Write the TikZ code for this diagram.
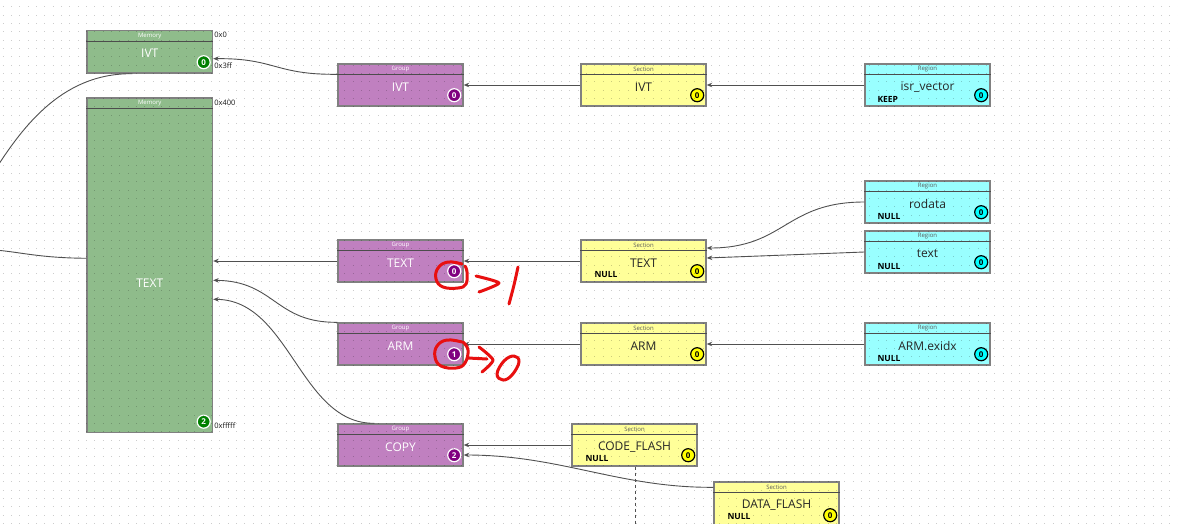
\documentclass[tikz,border=0pt]{standalone}
\usepackage{fontspec}
\setmainfont{Open Sans}
\usetikzlibrary{calc,arrows.meta}
\definecolor{memg}{RGB}{143,188,139}
\definecolor{grpp}{RGB}{192,128,192}
\definecolor{secy}{RGB}{255,255,153}
\definecolor{regc}{RGB}{153,255,255}
\definecolor{bordc}{RGB}{128,128,128}
\definecolor{badgeg}{RGB}{0,128,0}
\definecolor{badgep}{RGB}{128,0,128}
\definecolor{badgey}{RGB}{255,255,0}
\definecolor{badgec}{RGB}{0,255,255}
\definecolor{connc}{RGB}{80,80,80}
\definecolor{annored}{RGB}{232,16,16}
\definecolor{headdark}{RGB}{90,90,90}
\tikzset{
 base/.style={rectangle, draw=bordc, line width=1.4pt, inner sep=0pt},
 membox/.style={base, fill=memg},
 grpbox/.style={base, fill=grpp},
 secbox/.style={base, fill=secy},
 regbox/.style={base, fill=regc},
 memsep/.style={draw=black!70, line width=1pt},
 grpsep/.style={draw=black!70, line width=1pt},
 secsep/.style={draw=black!70, line width=1pt},
 regsep/.style={draw=black!70, line width=1pt},
 headfont/.style={font=\fontsize{6}{7}\selectfont, inner sep=0pt},
 memhead/.style={headfont, text=white},
 grphead/.style={headfont, text=white},
 sechead/.style={headfont, text=headdark},
 reghead/.style={headfont, text=headdark},
 labfont/.style={font=\fontsize{12}{14}\selectfont, inner sep=0pt},
 memlab/.style={labfont, text=white},
 grplab/.style={labfont, text=white},
 seclab/.style={labfont, text=black!85},
 reglab/.style={labfont, text=black!85},
 badge/.style={circle, inner sep=0pt, minimum size=13pt, line width=1.2pt, font=\bfseries\fontsize{8}{9}\selectfont},
 membadge/.style={badge, fill=badgeg, draw=white, text=white},
 grpbadge/.style={badge, fill=badgep, draw=white, text=white},
 secbadge/.style={badge, fill=badgey, draw=black, text=black},
 regbadge/.style={badge, fill=badgec, draw=black, text=black},
 flag/.style={font=\bfseries\fontsize{8.5}{10}\selectfont, anchor=west, inner sep=0pt, text=black},
 addr/.style={font=\fontsize{7.5}{9}\selectfont, anchor=west, inner sep=0pt, text=black!90},
 conn/.style={draw=connc, line width=0.9pt, -{Stealth[length=5.5pt,width=4.5pt]}},
 plainconn/.style={draw=connc, line width=0.9pt},
 dashconn/.style={draw=connc, line width=0.9pt, dashed},
 gridline/.style={draw=black, draw opacity=0.2, line width=1pt, dash pattern=on 1pt off 7.333pt},
 anno/.style={draw=annored, line width=3pt, line cap=round, line join=round},
}
% name, x1, y1, x2, y2, kind, header, label, badge
\newcommand\mkbox[9]{%
 \node[#6box, minimum width={(#4)-(#2)}, minimum height={(#5)-(#3)}] (#1) at ({((#2)+(#4))/2},{((#3)+(#5))/2}) {};
 \draw[#6sep] ($(#1.north west)+(0,11.5)$) -- ($(#1.north east)+(0,11.5)$);
 \node[#6head] (#1-h) at ($(#1.north)+(0,5.8)$) {#7};
 \node[#6lab] (#1-l) at ($(#1.north)+(0,23.5)$) {#8};
 \node[#6badge] (#1-b) at ($(#1.south east)+(-9.5,-11.5)$) {#9};
}
\begin{document}
\begin{tikzpicture}[x=1pt,y=-1pt]
\useasboundingbox (0,0) rectangle (1178,523);
\clip (0,0) rectangle (1178,523);
\fill[white] (0,0) rectangle (1178,523);

% boxes
\mkbox{memivt}{87}{30.5}{212.5}{73}{mem}{Memory}{IVT}{0}
\mkbox{memtext}{87}{98}{212.5}{432.5}{mem}{Memory}{}{2}
\node[memlab] (memtext-lab) at ($(memtext.north)+(0,186)$) {TEXT};

\mkbox{grpivt}{338}{64}{463}{106}{grp}{Group}{IVT}{0}
\mkbox{grptext}{338}{240}{463}{282}{grp}{Group}{TEXT}{0}
\mkbox{grparm}{338}{323}{463}{365}{grp}{Group}{ARM}{1}
\mkbox{grpcopy}{338}{424}{463}{466}{grp}{Group}{COPY}{2}

\mkbox{secivt}{581}{64}{706}{106}{sec}{Section}{IVT}{0}
\mkbox{sectext}{581}{240}{706}{282}{sec}{Section}{TEXT}{0}
\mkbox{secarm}{581}{323}{706}{365}{sec}{Section}{ARM}{0}
\mkbox{seccode}{572}{424}{697}{466}{sec}{Section}{CODE\_FLASH}{0}
\mkbox{secdata}{714}{482}{839}{526}{sec}{Section}{DATA\_FLASH}{0}

\mkbox{regisr}{865}{64}{990}{106}{reg}{Region}{isr\_vector}{0}
\mkbox{regro}{865}{181}{990}{223}{reg}{Region}{rodata}{0}
\mkbox{regtext}{865}{231}{990}{273}{reg}{Region}{text}{0}
\mkbox{regarm}{865}{323}{990}{365}{reg}{Region}{ARM.exidx}{0}

% flags
\node[flag] (sectext-f) at ($(sectext.south west)+(14,-8)$) {NULL};
\node[flag] (seccode-f) at ($(seccode.south west)+(14,-8)$) {NULL};
\node[flag] (secdata-f) at ($(secdata.south west)+(14,-10)$) {NULL};
\node[flag] (regisr-f) at ($(regisr.south west)+(13,-7)$) {KEEP};
\node[flag] (regro-f) at ($(regro.south west)+(13,-7)$) {NULL};
\node[flag] (regtext-f) at ($(regtext.south west)+(13,-7)$) {NULL};
\node[flag] (regarm-f) at ($(regarm.south west)+(13,-7)$) {NULL};

% addresses
\node[addr] (a0) at ($(memivt.north east)+(1,5.5)$) {0x0};
\node[addr] (a1) at ($(memivt.south east)+(1,-8)$) {0x3ff};
\node[addr] (a2) at ($(memtext.north east)+(1,5.5)$) {0x400};
\node[addr] (a3) at ($(memtext.south east)+(1,-7.5)$) {0xfffff};

% grid dots
\foreach \r in {0,...,62} {
 \draw[gridline] (2.8,{6.7+8.333*\r}) -- (1178,{6.7+8.333*\r});
}

% off-page ends
\coordinate (offa) at (-10,178);
\coordinate (offb) at (-5,250);
\coordinate (dashend) at (635,530);

% connectors
\draw[conn] (regisr.west) -- (secivt.east);
\draw[conn] (secivt.west) -- (grpivt.east);
\draw[conn] ($(grpivt.north west)+(0,11)$) .. controls (275,75) and (275,58) .. ($(memivt.south east)+(0,-15)$);
\draw[plainconn] ($(memivt.south west)+(46,0)$) .. controls (60,73) and (20,130) .. (offa);
\draw[plainconn] ($(memtext.west)+(0,-7)$) .. controls (40,258) and (20,252) .. (offb);
\draw[conn] (grptext.west) -- (grptext.west -| memtext.east);
\draw[conn] (sectext.west) -- (grptext.east);
\draw[conn] (regro.west) .. controls (785,202) and (785,248) .. ($(sectext.east)+(0,-13)$);
\draw[conn] (regtext.west) -- ($(sectext.east)+(0,-3)$);
\draw[conn] (grparm.north west) .. controls (275,323) and (275,281) .. ($(memtext.north east)+(0,183)$);
\draw[conn] (secarm.west) -- (grparm.east);
\draw[conn] (regarm.west) -- (secarm.east);
\draw[conn] ($(grpcopy.north west)+(37,0)$) .. controls (300,424) and (290,300) .. ($(memtext.north east)+(0,202)$);
\draw[conn] (seccode.west) -- (grpcopy.east);
\draw[conn] ($(secdata.north west)+(0,6)$) .. controls (620,488) and (560,455) .. ($(grpcopy.east)+(0,10)$);
\draw[dashconn] (seccode.south -| dashend) -- (dashend);

% red hand annotations
\draw[anno] plot[smooth, tension=0.7] coordinates {(462,264) (448,262) (438,268) (436,279) (443,287) (458,288) (466,284) (467,272) (465,266)};
\draw[anno] plot[smooth, tension=0.4] coordinates {(476,276) (499,283) (479,292)};
\draw[anno] plot[smooth, tension=0.5] coordinates {(518,267) (514,285) (509,304)};

\draw[anno] plot[smooth, tension=0.7] coordinates {(462,342) (447,340) (437,346) (435,357) (441,366) (456,368) (465,363) (468,350) (463,342)};
\draw[anno] (468,358) -- (487,359);
\draw[anno] plot[smooth, tension=0.4] coordinates {(479,347) (493,360) (482,372)};
\draw[anno] plot[smooth cycle, tension=0.7] coordinates {(514,356) (519,362) (512,375) (503,380) (497,374) (504,361)};
\end{tikzpicture}
\end{document}
